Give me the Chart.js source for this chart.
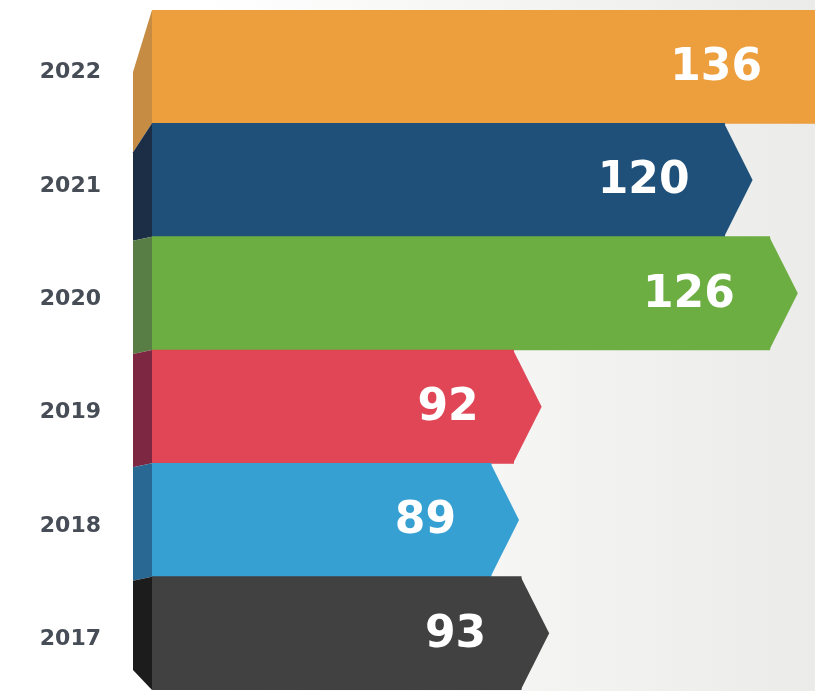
<!DOCTYPE html>
<html>
<head>
<meta charset="utf-8">
<script src="https://cdn.jsdelivr.net/npm/chart.js@4"></script>
<style>
  html, body { margin: 0; padding: 0; }
  body { background: linear-gradient(to right, #ffffff 25%, #f3f3f2 70%, #ebebea 100%); }
  #wrap { width: 815px; height: 691px; position: relative; }
</style>
</head>
<body>
<div id="wrap"><canvas id="chart"></canvas></div>
<script>
// datos del grafico
const years = ['2022', '2021', '2020', '2019', '2018', '2017'];
const values = [136, 120, 126, 92, 89, 93];
const frontColors = ['#ed9e3d', '#1f5079', '#6cae41', '#e04656', '#36a0d2', '#414141'];
const sideColors = ['#c68c43', '#1b2e45', '#587e45', '#7e2742', '#2a6894', '#1c1c1c'];

// caras laterales 3D + punta de flecha + valores
const arrowPlugin = {
  id: 'arrows',
  afterDatasetsDraw(chart) {
    const ctx = chart.ctx;
    const area = chart.chartArea;
    const bars = chart.getDatasetMeta(0).data;
    const sideLeft = area.left - 19;
    const drops = [62, 29, 4, 4, 4, 4, -20];

    ctx.save();
    bars.forEach((bar, i) => {
      const top = bar.y - bar.height / 2;
      const bottom = bar.y + bar.height / 2;

      // cara lateral
      ctx.fillStyle = sideColors[i];
      ctx.beginPath();
      ctx.moveTo(sideLeft, top + drops[i]);
      ctx.lineTo(area.left, top);
      ctx.lineTo(area.left, bottom);
      ctx.lineTo(sideLeft, bottom + drops[i + 1]);
      ctx.closePath();
      ctx.fill();

      // punta
      if (bar.x < area.right) {
        ctx.fillStyle = frontColors[i];
        ctx.beginPath();
        ctx.moveTo(bar.x - 0.5, top);
        ctx.lineTo(bar.x + 28, bar.y);
        ctx.lineTo(bar.x - 0.5, bottom);
        ctx.closePath();
        ctx.fill();
      }

      // valor
      const end = Math.min(bar.x, area.right - 18);
      ctx.fillStyle = '#ffffff';
      ctx.font = 'bold 44px "DejaVu Sans"';
      ctx.textAlign = 'right';
      ctx.textBaseline = 'middle';
      ctx.fillText(String(values[i]), end - 35, bar.y + 2);
    });
    ctx.restore();
  }
};

const ctx = document.getElementById('chart').getContext('2d');
const chart = new Chart(ctx, {
  type: 'bar',
  data: {
    labels: years,
    datasets: [{
      data: values,
      backgroundColor: frontColors,
      borderWidth: 0,
      barPercentage: 1,
      categoryPercentage: 1
    }]
  },
  options: {
    indexAxis: 'y',
    responsive: true,
    maintainAspectRatio: false,
    animation: false,
    layout: { padding: { top: 10, bottom: 1, left: 0, right: 0 } },
    plugins: {
      legend: { display: false },
      tooltip: { enabled: false }
    },
    scales: {
      x: {
        display: false,
        min: 44,
        max: 132
      },
      y: {
        grid: { display: false, drawTicks: false },
        border: { display: false },
        ticks: {
          padding: 51,
          labelOffset: 6,
          color: '#474d56',
          font: { family: 'DejaVu Sans', weight: 'bold', size: 22 }
        },
        afterFit(scale) {
          scale.width = 152;
          scale.paddingTop = 0;
          scale.paddingBottom = 0;
        }
      }
    }
  },
  plugins: [arrowPlugin]
});
</script>
</body>
</html>
